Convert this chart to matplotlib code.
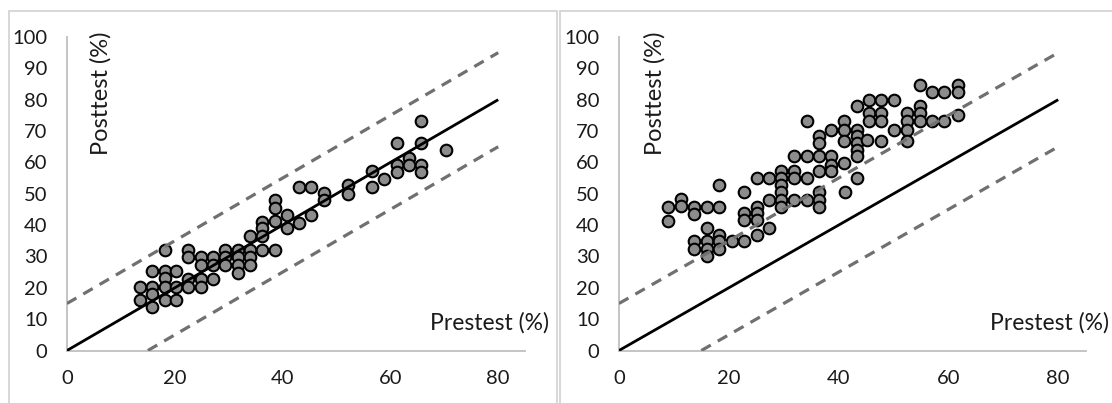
import matplotlib
matplotlib.use("Agg")
import matplotlib.pyplot as plt
from matplotlib.patches import Rectangle

plt.rcParams['font.family'] = ['Lato', 'DejaVu Sans']

# ---------------- data ----------------
left_pre = [13.6, 13.6, 15.8, 15.8, 15.8, 15.8, 18.1, 18.1, 18.1, 18.1, 18.1,
            20.3, 20.3, 20.3, 22.5, 22.5, 22.5, 22.5, 24.9, 24.9, 24.9, 24.9,
            27.1, 27.1, 27.1, 29.3, 29.3, 29.3, 31.7, 31.7, 31.7, 31.7,
            34.0, 34.0, 34.0, 34.0, 36.2, 36.2, 36.2, 36.2, 38.5, 38.5, 38.5, 38.5,
            40.8, 40.8, 43.1, 43.1, 45.3, 45.3, 47.6, 47.6, 52.1, 52.1,
            56.5, 56.5, 58.9, 61.2, 61.2, 61.2, 63.5, 63.5, 65.7, 65.7, 65.7, 65.7, 70.3]
left_post = [20.4, 16.1, 25.2, 20.4, 18.0, 14.0, 32.1, 25.2, 23.0, 20.4, 16.1,
             25.2, 20.4, 16.1, 32.1, 29.8, 22.8, 20.4, 29.8, 27.3, 22.8, 20.4,
             29.8, 27.3, 22.8, 32.1, 29.8, 27.3, 32.1, 29.8, 27.3, 24.7,
             36.4, 32.1, 29.8, 27.3, 41.0, 39.0, 36.5, 32.1, 48.1, 45.4, 41.2, 32.1,
             43.3, 39.0, 52.3, 40.8, 52.3, 43.3, 50.3, 48.1, 52.9, 50.0,
             57.1, 52.3, 54.7, 66.2, 59.3, 57.0, 61.4, 59.3, 73.1, 66.2, 59.3, 56.8, 63.8]

right_pre = [9.0, 9.0, 11.3, 11.3, 13.7, 13.7, 13.7, 13.7, 16.0, 16.0, 16.0, 16.0, 16.0,
             18.3, 18.3, 18.3, 18.3, 18.3, 20.5, 22.8, 22.8, 22.8, 22.8,
             25.1, 25.1, 25.1, 25.1, 25.1, 27.3, 27.3, 27.3,
             29.5, 29.5, 29.5, 29.5, 29.5, 29.5, 31.8, 31.8, 31.8, 31.8,
             34.2, 34.2, 34.2, 34.2, 36.5, 36.5, 36.5, 36.5, 36.5, 36.5, 36.5,
             38.7, 38.7, 38.7, 38.7, 40.9, 40.9, 40.9, 40.9, 41.2,
             43.3, 43.3, 43.3, 43.3, 43.3, 43.3, 43.3,
             45.6, 45.6, 45.6, 45.1, 47.8, 47.8, 47.8, 47.8, 50.1, 50.1,
             52.4, 52.4, 52.4, 52.4, 54.8, 54.8, 54.8, 54.8,
             57.0, 57.0, 59.2, 59.2, 61.8, 61.8, 61.8]
right_post = [45.9, 41.2, 48.3, 46.0, 45.9, 43.6, 34.8, 32.3, 45.9, 39.0, 34.8, 32.3, 30.0,
              52.9, 45.9, 36.9, 34.8, 32.3, 34.8, 50.4, 43.8, 41.5, 34.8,
              55.0, 45.9, 43.8, 41.5, 36.9, 55.0, 48.0, 39.0,
              57.1, 55.0, 52.9, 50.4, 48.0, 45.9, 61.9, 57.1, 55.0, 48.0,
              73.1, 61.9, 55.0, 48.0, 68.3, 66.2, 61.9, 57.1, 50.4, 48.0, 45.9,
              70.4, 61.9, 59.3, 57.1, 73.1, 70.4, 66.7, 59.8, 50.4,
              77.9, 70.4, 68.3, 66.2, 64.0, 61.9, 55.0,
              80.0, 75.8, 73.1, 67.3, 80.0, 75.8, 73.1, 66.7, 80.0, 70.4,
              75.8, 73.1, 70.4, 66.7, 84.7, 77.9, 75.8, 73.1,
              82.3, 73.1, 82.3, 73.1, 84.8, 82.3, 75.2]

identity_x = [0, 80]
identity_y = [0, 80]
upper_x = [0, 80]
upper_y = [15, 95]
lower_x = [15, 80]
lower_y = [0, 65]

x_ticks = [0, 20, 40, 60, 80]
y_ticks = [0, 10, 20, 30, 40, 50, 60, 70, 80, 90, 100]
x_label = "Prestest (%)"
y_label = "Posttest (%)"

# ---------------- layout ----------------
W, H = 1112, 403
fig = plt.figure(figsize=(W / 100, H / 100), dpi=100)
fig.patch.set_facecolor("white")

# panel borders (Excel chart areas)
for x0, x1 in [(8.5, 557), (560, 1200)]:
    fig.patches.append(Rectangle((x0 / W, -0.2), (x1 - x0) / W, 1.2 - 10.5 / H,
                                 transform=fig.transFigure, fill=False,
                                 edgecolor="#d4d4d4", linewidth=1.3, zorder=0))

y_bottom, y_top = 350.5, 37.0
panels = [
    dict(x0=67.0, scale=5.39, pre=left_pre, post=left_post, ylab_x=101,
         xlab_x=490, xlab_ha="center"),
    dict(x0=619.0, scale=5.49, pre=right_pre, post=right_post, ylab_x=655,
         xlab_x=1109, xlab_ha="right"),
]

text_color = "#1a1a1a"
for p in panels:
    width = 85 * p["scale"]
    ax = fig.add_axes([p["x0"] / W, (H - y_bottom) / H, width / W, (y_bottom - y_top) / H])
    ax.patch.set_alpha(0)
    ax.set_xlim(0, 85)
    ax.set_ylim(0, 100)
    ax.set_xticks(x_ticks)
    ax.set_yticks(y_ticks)
    ax.tick_params(length=0, labelsize=14.5, colors=text_color)
    ax.tick_params(axis="y", pad=14)
    ax.tick_params(axis="x", pad=14)
    for s in ["top", "right"]:
        ax.spines[s].set_visible(False)
    for s in ["left", "bottom"]:
        ax.spines[s].set_color("#bfbfbf")
        ax.spines[s].set_linewidth(1.3)

    ax.scatter(p["pre"], p["post"], s=70, facecolor="#8c8c8c", edgecolor="black",
               linewidth=1.5, zorder=2, clip_on=False)
    ax.plot(identity_x, identity_y, color="black", linewidth=2.0, zorder=3,
            solid_capstyle="butt")
    ax.plot(upper_x, upper_y, color="#707070", linewidth=2.3, dashes=(3.4, 2.5), zorder=3)
    ax.plot(lower_x, lower_y, color="#707070", linewidth=2.3, dashes=(3.4, 2.5), zorder=3)

    fig.text(p["ylab_x"] / W, 1 - 93 / H, y_label, rotation=90, ha="center", va="center",
             fontsize=17, color=text_color)
    fig.text(p["xlab_x"] / W, 1 - 323 / H, x_label, ha=p["xlab_ha"], va="center",
             fontsize=16.5, color=text_color)

fig.savefig("out.png", dpi=100, facecolor="white")
